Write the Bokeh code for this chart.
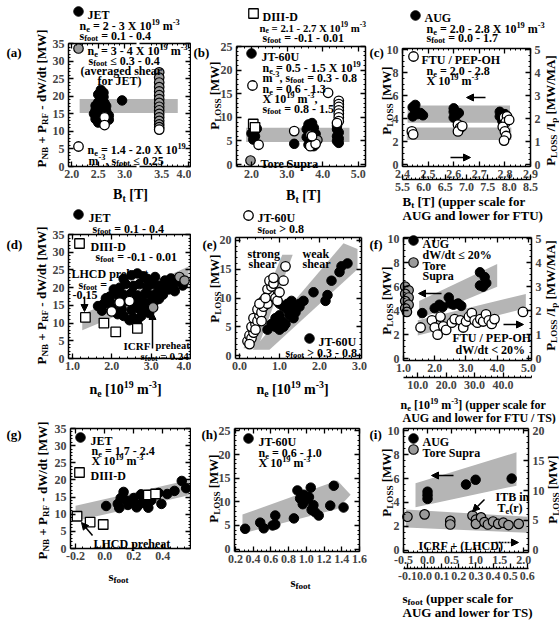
import numpy as np
from bokeh.plotting import figure
from bokeh.models import (Range1d, LinearAxis, FixedTicker, NumeralTickFormatter,
                          CustomJSTickFormatter, Label, Arrow, NormalHead)
from bokeh.layouts import row, column
from bokeh.embed import file_html
from bokeh.resources import INLINE

FONT = "Liberation Serif"

# ---------------- data ----------------
# (a) JET B_t scan (axis has a break between 3.0 and 3.5 T)
a_jet_B = [2.55, 2.60, 2.50, 2.60, 2.55, 2.50, 2.62, 2.45, 2.55, 2.65, 2.45, 2.55, 2.65, 2.42, 2.50, 2.60, 2.70, 2.45, 2.55, 2.70, 2.50, 2.95]
a_jet_P = [21.8, 21.0, 20.5, 19.8, 19.0, 18.3, 18.0, 17.3, 17.0, 17.2, 16.0, 16.0, 15.8, 15.0, 14.5, 14.8, 14.5, 13.5, 13.2, 13.3, 12.5, 18.8]
a_gray_B = [3.45] * 15
a_gray_P = [26.8, 25.3, 23.9, 22.6, 21.4, 20.3, 19.2, 18.1, 17.0, 16.0, 15.0, 14.0, 13.0, 12.0, 11.2]
a_open_B = [2.62, 2.62, 3.45]
a_open_P = [14.0, 11.8, 10.5]
a_band_B = [2.15, 3.80, 3.80, 2.15]
a_band_P = [15.2, 15.2, 19.2, 19.2]

# (b) JT-60U / DIII-D / Tore Supra vs B_t
b_jt_B = [2.05, 2.10, 2.00, 2.10, 2.05, 2.15, 3.20, 3.55, 3.60, 3.70, 3.75, 3.65, 3.80, 3.55, 3.70, 3.80, 3.60, 3.75, 4.40, 4.45, 4.40, 4.45, 4.40, 4.45, 4.40]
b_jt_P = [8.0, 7.2, 6.6, 6.0, 5.3, 7.6, 4.4, 7.5, 8.5, 8.8, 7.8, 6.8, 6.5, 5.8, 5.5, 4.8, 4.2, 3.9, 7.5, 6.8, 6.0, 5.5, 5.0, 4.6, 8.2]
b_open_B = [2.20, 3.20, 4.15, 4.45, 4.45, 4.45, 4.45, 4.45, 4.45, 4.45, 4.40, 3.65, 3.80, 3.70]
b_open_P = [4.2, 7.1, 15.2, 13.5, 12.8, 12.2, 11.5, 10.8, 10.0, 9.2, 8.8, 3.9, 4.4, 6.0]
b_d3d_B = [2.05, 2.10]
b_d3d_P = [8.6, 7.9]
b_ts_B = [3.75, 3.85, 3.65]
b_ts_P = [5.8, 5.2, 6.3]
b_band_B = [1.85, 4.75, 4.75, 1.85]
b_band_P = [4.8, 4.8, 7.8, 7.8]

# (c) AUG (upper B scale, P_LOSS) and FTU (lower B scale, P_LOSS/I_p)
c_aug_B = [2.44, 2.45, 2.46, 2.44, 2.47, 2.48, 2.45, 2.60, 2.60, 2.61, 2.60, 2.62, 2.78, 2.79, 2.80, 2.79, 2.80, 2.78]
c_aug_P = [5.0, 4.7, 4.4, 4.2, 4.5, 4.3, 5.2, 4.9, 4.6, 4.3, 4.1, 4.5, 4.6, 4.3, 4.0, 3.8, 4.4, 4.2]
c_ftu_B = [5.72, 5.75, 6.80, 6.85, 6.80, 6.90, 7.88, 7.95, 7.92, 7.85, 7.90, 7.93, 7.88, 8.00]
c_ftu_PI = [1.45, 1.32, 1.75, 1.60, 1.45, 1.68, 2.05, 2.10, 1.85, 1.65, 1.45, 1.25, 1.05, 1.95]
c_aug_band_B = [2.42, 2.82, 2.82, 2.42]
c_aug_band_P = [3.65, 3.65, 5.15, 5.15]
c_ftu_band_B = [5.6, 8.05, 8.05, 5.6]
c_ftu_band_PI = [1.08, 1.08, 1.62, 1.62]

# (d) vs density
d_jet_n = [2.50, 2.65, 2.80, 3.35, 3.50, 3.65, 2.20, 2.35, 2.55, 2.70, 2.90, 3.05, 3.20, 3.40, 3.55, 3.80,
           1.95, 2.10, 2.30, 2.50, 2.65, 2.85, 3.00, 3.15, 3.30, 1.80, 1.95, 2.20, 2.40, 2.60, 2.80, 2.95, 3.10,
           1.75, 2.00, 2.25, 2.50, 2.70, 2.90, 2.30, 2.55, 2.75, 2.45,
           1.65, 1.85, 2.05, 2.30, 2.90, 3.10, 3.30, 3.45, 3.60, 2.15, 2.65, 2.95, 3.20, 3.00]
d_jet_P = [23.5, 24.0, 23.2, 22.0, 22.6, 22.0, 20.0, 21.0, 20.5, 21.0, 20.2, 21.0, 20.5, 20.8, 20.5, 20.6,
           17.5, 18.3, 18.0, 18.5, 17.8, 18.3, 17.8, 18.5, 18.0, 15.5, 16.0, 16.5, 16.2, 15.8, 16.0, 15.5, 16.3,
           13.5, 14.2, 14.0, 13.6, 14.0, 13.8, 12.0, 11.5, 12.0, 10.8,
           14.8, 17.0, 19.5, 22.5, 22.5, 23.0, 19.0, 19.5, 19.0, 12.5, 10.8, 12.8, 16.8, 15.5]
d_gray_n = [3.05, 3.72, 3.85]
d_gray_P = [14.4, 23.0, 22.0]
d_open_n = [2.00, 2.20, 2.45]
d_open_P = [13.3, 15.8, 16.2]
d_d3d_n = [1.33, 1.80, 2.10, 2.65]
d_d3d_P = [11.6, 10.0, 7.5, 8.5]
d_band_n = [1.25, 3.95, 3.95, 1.25]
d_band_P = [8.0, 20.5, 26.0, 12.5]

# (e) JT-60U strong / weak shear vs density
e_open_n = [0.20, 0.25, 0.30, 0.35, 0.30, 0.40, 0.35, 0.45, 0.50, 0.45, 0.55, 0.60, 0.60, 0.70, 0.75, 0.70,
            0.80, 0.75, 0.85, 0.90, 0.95, 1.00, 1.10, 1.15, 0.25, 0.40, 0.50, 0.65, 0.85, 0.55]
e_open_P = [2.5, 3.5, 3.0, 4.0, 5.0, 5.5, 6.5, 6.0, 7.0, 8.0, 7.5, 8.5, 9.5, 9.0, 10.5, 11.5,
            12.0, 13.0, 12.5, 10.0, 9.5, 11.0, 13.0, 15.5, 2.0, 4.5, 9.0, 10.0, 13.5, 6.0]
e_jt_n = [0.70, 0.80, 0.90, 1.00, 1.10, 0.90, 1.00, 1.05, 1.15, 1.20, 1.25, 1.30, 1.35, 1.40, 1.20, 1.10,
          1.50, 1.60, 1.50, 1.85, 2.20, 2.15, 2.30, 2.50, 2.55, 2.70, 1.00, 1.30]
e_jt_P = [4.5, 5.5, 5.0, 4.5, 5.0, 6.5, 7.0, 6.0, 5.5, 8.0, 7.0, 8.5, 6.5, 7.5, 9.0, 8.5,
          9.0, 9.5, 8.5, 11.0, 10.5, 9.5, 13.0, 14.5, 15.5, 16.0, 9.0, 9.5]
e_strong_band_n = [0.10, 0.45, 1.33, 1.07]
e_strong_band_P = [1.3, 1.3, 17.5, 17.5]
e_weak_band_n = [0.33, 0.75, 2.95, 2.95, 2.60]
e_weak_band_P = [1.0, 1.0, 15.0, 18.5, 19.5]

# (f) AUG (upper n scale, P_LOSS), Tore Supra (lower n scale, P_LOSS), FTU (lower n scale, P_LOSS/I_p)
f_aug_n = [1.60, 2.00, 2.15, 2.25, 2.45, 2.50, 2.60, 2.75, 2.85, 3.45, 3.60, 3.65, 3.45, 3.55]
f_aug_P = [3.8, 4.2, 4.5, 4.3, 5.1, 4.6, 4.5, 4.6, 4.4, 7.2, 6.8, 6.3, 6.1, 6.0]
f_ts_n = [5.6, 6.8, 5.6, 6.8, 5.6, 6.8, 5.6, 6.2]
f_ts_P = [6.0, 5.7, 5.4, 5.1, 4.8, 4.5, 4.2, 3.9]
f_ftu_n = [11, 15, 16, 17, 18, 19, 20, 22, 23, 25, 26, 27, 28, 29, 30, 31, 32, 33, 34, 35, 36, 37, 47]
f_ftu_PI = [1.3, 1.6, 1.3, 1.0, 1.75, 1.35, 1.2, 1.5, 1.65, 1.6, 1.3, 1.55, 1.75, 1.9, 1.6, 1.5, 1.65, 1.55, 1.85, 1.6, 1.45, 1.65, 1.95]
f_aug_band_n = [1.50, 4.00, 4.00, 1.50]
f_aug_band_P = [3.3, 6.0, 7.9, 4.8]
f_ftu_band_n = [10, 48, 48, 10]
f_ftu_band_PI = [0.97, 2.1, 2.7, 1.6]

# (g) JET / DIII-D vs s_foot
g_jet_s = [0.01, 0.09, 0.11, 0.13, 0.16, 0.20, 0.23, 0.25, 0.27, 0.30, 0.32, 0.37, 0.39, 0.43, 0.48, 0.53, 0.56, 0.10, 0.18, 0.22, 0.15, 0.26]
g_jet_P = [12.4, 13.0, 14.7, 16.5, 12.7, 14.7, 12.6, 15.8, 14.7, 11.9, 14.0, 16.2, 13.0, 15.9, 16.8, 19.7, 17.6, 11.8, 13.5, 12.0, 14.0, 13.3]
g_d3d_s = [-0.19, -0.10, -0.01, 0.30, 0.35]
g_d3d_P = [9.4, 7.7, 7.0, 15.6, 15.9]
g_band_s = [-0.20, 0.58, 0.58, -0.20]
g_band_P = [8.0, 15.5, 20.0, 12.5]

# (h) JT-60U vs s_foot
h_jt_s = [0.31, 0.48, 0.52, 0.62, 0.65, 0.65, 0.86, 0.90, 0.93, 0.96, 1.05, 1.03, 1.08, 1.06, 1.10, 1.14, 1.31, 1.27, 1.42, 0.97, 1.00]
h_jt_P = [4.3, 5.6, 4.4, 5.0, 5.2, 7.1, 6.5, 12.4, 10.7, 9.5, 13.0, 11.0, 9.3, 8.3, 7.8, 7.1, 13.4, 9.2, 8.8, 11.5, 10.5]
h_band_s = [0.28, 1.35, 1.50, 1.35, 0.28]
h_band_P = [3.3, 8.5, 11.5, 14.5, 7.3]

# (i) AUG (upper s scale, left P) and Tore Supra (lower s scale, right P)
i_aug_s = [0.0, 0.0, 0.0, 0.8, 1.0, 1.75]
i_aug_P = [4.3, 4.6, 4.9, 5.5, 5.9, 6.0]
i_ts_s = [-0.10, 0.00, 0.15, 0.15, 0.28, 0.30, 0.30, 0.33, 0.35, 0.37, 0.40, 0.43, 0.46, 0.49, 0.55]
i_ts_P = [5.6, 6.0, 4.9, 4.3, 5.8, 5.1, 4.4, 5.5, 4.7, 4.3, 4.8, 4.4, 4.6, 4.2, 4.4]
i_aug_band_s = [-0.25, 1.85, 1.85, -0.25]
i_aug_band_P = [3.6, 5.4, 8.2, 5.6]
i_ts_band_s = [-0.11, 0.60, 0.60, -0.11]
i_ts_band_P = [3.8, 2.9, 5.6, 6.8]

# axis break of panel (a)
A_BREAK, A_SHIFT = 3.2, 0.2
def a_u(B):
    B = np.asarray(B, dtype=float)
    return np.where(B > A_BREAK, B + A_SHIFT, B)

# ---------------- geometry (page pixels) ----------------
GEO = {
    'a': dict(cell=(0, 0, 191, 205), frame=(68, 43, 190, 166), xr=(1.94, 4.24), yr=(0, 35)),
    'b': dict(cell=(191, 0, 177, 205), frame=(236, 46, 365, 166), xr=(1.58, 5.2), yr=(-0.4, 25)),
    'c': dict(cell=(368, 0, 191, 225), frame=(402, 48, 530, 166), xr=(2.4, 2.9), yr=(-0.15, 10.1)),
    'd': dict(cell=(0, 205, 191, 205), frame=(68, 234, 190, 358), xr=(0.9, 4.0), yr=(0, 35)),
    'e': dict(cell=(191, 205, 177, 205), frame=(235, 237, 361, 358), xr=(-0.1, 3.05), yr=(-0.5, 20.5)),
    'f': dict(cell=(368, 225, 191, 199), frame=(403, 237, 531, 360), xr=(1.0, 5.1), yr=(-0.15, 10.1)),
    'g': dict(cell=(0, 410, 191, 210), frame=(70, 428, 190, 548), xr=(-0.235, 0.59), yr=(0, 35)),
    'h': dict(cell=(191, 410, 177, 210), frame=(234, 428, 359, 551), xr=(0.19, 1.6), yr=(-0.5, 25.5)),
    'i': dict(cell=(368, 424, 191, 196), frame=(403, 428, 528, 552), xr=(-0.5, 2.1), yr=(-0.2, 10.2)),
}

class Panel:
    """A figure whose canvas is one cell of the page; the plot box is drawn with
    axes at fixed locations so that texts outside the box are not clipped."""
    def __init__(self, key):
        g = GEO[key]
        self.cx, self.cy, self.cw, self.ch = g['cell']
        self.fx0, self.fy0, self.fx1, self.fy1 = g['frame']
        self.xr, self.yr = g['xr'], g['yr']
        p = figure(width=self.cw, height=self.ch,
                   x_range=Range1d(*self.full_x(*self.xr)), y_range=Range1d(*self.full_y(*self.yr)),
                   output_backend="svg", toolbar_location=None, title_location=None,
                   x_axis_location=None, y_axis_location=None,
                   min_border_left=0, min_border_right=0, min_border_top=0, min_border_bottom=0)
        p.grid.visible = False
        p.outline_line_color = None
        p.background_fill_color = "white"
        p.border_fill_color = "white"
        self.p = p

    def full_x(self, a, b):
        k = (b - a) / (self.fx1 - self.fx0)
        return (a - (self.fx0 - self.cx) * k, b + (self.cx + self.cw - self.fx1) * k)

    def full_y(self, a, b):
        k = (b - a) / (self.fy1 - self.fy0)
        return (a - (self.cy + self.ch - self.fy1) * k, b + (self.fy0 - self.cy) * k)

    def extra(self, xlim=None, ylim=None):
        if xlim is not None:
            self.p.extra_x_ranges = {"lo": Range1d(*self.full_x(*xlim))}
        if ylim is not None:
            self.p.extra_y_ranges = {"r": Range1d(*self.full_y(*ylim))}

    def d(self, px, py):
        x = self.xr[0] + (px - self.fx0) / (self.fx1 - self.fx0) * (self.xr[1] - self.xr[0])
        y = self.yr[1] - (py - self.fy0) / (self.fy1 - self.fy0) * (self.yr[1] - self.yr[0])
        return x, y

BLANK = "return '';"

def style_axis(ax, ticks, minor, fmt="0", standoff=3):
    ax.ticker = FixedTicker(ticks=[float(t) for t in np.round(ticks, 4)],
                            minor_ticks=[float(t) for t in np.round(minor, 4)])
    ax.major_tick_in = 5
    ax.major_tick_out = 0
    ax.minor_tick_in = 2
    ax.minor_tick_out = 0
    ax.axis_line_width = 1.5
    ax.major_tick_line_width = 1.3
    ax.minor_tick_line_width = 1.0
    ax.major_label_text_font = FONT
    ax.major_label_text_font_style = "bold"
    ax.major_label_text_font_size = "12px"
    ax.major_label_standoff = standoff
    if fmt == BLANK:
        ax.formatter = CustomJSTickFormatter(code=BLANK)
    elif fmt is not None:
        ax.formatter = NumeralTickFormatter(format=fmt)

def mk_axis(P, side, ticks, minor, fmt, bounds, loc, rname=None):
    kw = {}
    if rname is not None:
        kw['x_range_name' if side in ('below', 'above') else 'y_range_name'] = rname
    ax = LinearAxis(fixed_location=loc, bounds=tuple(float(b) for b in bounds), **kw)
    style_axis(ax, ticks, minor, fmt, 3 if side in ('below', 'above') else 4)
    P.p.add_layout(ax, side)
    return ax

def box(P, xt, xm, xfmt, yt, ym, yfmt, mirror_right=True):
    x0, x1 = P.xr
    y0, y1 = P.yr
    mk_axis(P, 'below', xt, xm, xfmt, (x0, x1), y0)
    mk_axis(P, 'above', xt, xm, BLANK, (x0, x1), y1)
    mk_axis(P, 'left', yt, ym, yfmt, (y0, y1), x0)
    if mirror_right:
        mk_axis(P, 'right', yt, ym, BLANK, (y0, y1), x1)

W = {' ': .25, '%': 1.0, '(': .333, ')': .333, '+': .57, ',': .25, '-': .333, '.': .25, '/': .278, ':': .333,
     '<': .57, '=': .57, '>': .57, '≤': .57, 'A': .722, 'B': .667, 'C': .722, 'D': .722, 'E': .667, 'F': .611,
     'G': .778, 'H': .778, 'I': .389, 'J': .5, 'L': .667, 'M': .944, 'N': .722, 'O': .778, 'P': .611, 'R': .722,
     'S': .556, 'T': .667, 'U': .722, 'W': 1.0, 'X': .722, '[': .333, ']': .333, 'a': .5, 'b': .556, 'c': .444,
     'd': .556, 'e': .444, 'f': .333, 'g': .5, 'h': .556, 'i': .278, 'k': .556, 'l': .278, 'm': .833, 'n': .556,
     'o': .5, 'p': .556, 'r': .444, 's': .389, 't': .333, 'u': .556, 'v': .5, 'w': .722, 'x': .5, 'y': .5}

def tw(s, size):
    return sum(W.get(ch, .5) for ch in s) * size

def parse(s):
    out, buf, i = [], '', 0
    while i < len(s):
        if s[i] in '_^' and i + 1 < len(s) and s[i + 1] == '{':
            if buf:
                out.append((buf, 0))
                buf = ''
            j = s.index('}', i)
            out.append((s[i + 2:j], -1 if s[i] == '_' else 1))
            i = j + 1
        else:
            buf += s[i]
            i += 1
    if buf:
        out.append((buf, 0))
    return out

def put(P, px, py, s, size=12, align='left', angle=0.0, color='black'):
    segs = parse(s)
    sizes = [size * 0.7 if k else size for t, k in segs]
    widths = [tw(t, sz) for (t, k), sz in zip(segs, sizes)]
    total = sum(widths)
    off = {'left': 0, 'center': -total / 2, 'right': -total}[align]
    x, y = P.d(px, py)
    base = -0.32 * size
    for (t, k), sz, w in zip(segs, sizes, widths):
        lead = len(t) - len(t.lstrip(' '))
        core = t.strip(' ')
        along = off + tw(' ' * lead, sz)
        sh = base + {0: 0, -1: -0.22 * size, 1: 0.4 * size}[k]
        if core:
            if angle == 0:
                xo, yo = along, sh
            else:
                xo, yo = -sh, along
            P.p.add_layout(Label(x=x, y=y, x_offset=xo, y_offset=yo, text=core, angle=angle,
                                 text_font=FONT, text_font_style="bold", text_font_size=f"{sz:.1f}px",
                                 text_color=color, text_align="left", text_baseline="alphabetic"))
        off += w

MS = 9.5
def blk(p, x, y, **kw):
    p.scatter(x, y, size=MS, marker="circle", fill_color="black", line_color="black", line_width=1, **kw)
def opn(p, x, y, **kw):
    p.scatter(x, y, size=MS, marker="circle", fill_color="white", line_color="black", line_width=1.3, **kw)
def gry(p, x, y, **kw):
    p.scatter(x, y, size=MS, marker="circle", fill_color="#9a9a9a", line_color="black", line_width=1.2, **kw)
def sqr(p, x, y, **kw):
    p.scatter(x, y, size=MS, marker="square", fill_color="white", line_color="black", line_width=1.3, **kw)
SYM = {'blk': blk, 'open': opn, 'gray': gry, 'sq': sqr}

def sym(P, px, py, kind):
    x, y = P.d(px, py)
    SYM[kind](P.p, [x], [y])

def arrow(P, p0, p1, dash="solid", size=7):
    x0, y0 = P.d(*p0)
    x1, y1 = P.d(*p1)
    P.p.add_layout(Arrow(x_start=x0, y_start=y0, x_end=x1, y_end=y1, line_width=1.5, line_dash=dash,
                         end=NormalHead(size=size, fill_color="black", line_color="black", line_width=1)))

BAND = dict(fill_color="#b5b5b5", line_color=None)

def ar(a, b, s):
    return np.arange(a, b + s / 2, s)

ROT = np.pi / 2

# ---------------- (a) ----------------
A = Panel('a'); p = A.p
p.patch(a_u(a_band_B), a_band_P, **BAND)
blk(p, a_u(a_jet_B), a_jet_P)
gry(p, a_u(a_gray_B), a_gray_P)
opn(p, a_u(a_open_B), a_open_P)
ax0, ax1 = A.xr
gap = (3.22, 3.28)
lo_t, hi_t = a_u([2.0, 2.5, 3.0]), a_u([3.5, 4.0])
lo_m, hi_m = a_u(ar(2.0, 3.2, 0.1)), a_u(ar(3.1, 4.0, 0.1))
for side, fmt in (('below', None), ('above', BLANK)):
    for bnd, tk, mn in (((ax0, gap[0]), lo_t, lo_m), ((gap[1], ax1), hi_t, hi_m)):
        ax = mk_axis(A, side, tk, [m for m in mn if bnd[0] <= m <= bnd[1]], fmt, bnd,
                     A.yr[0] if side == 'below' else A.yr[1])
        if fmt is None:
            ax.formatter = CustomJSTickFormatter(args=dict(brk=A_BREAK, sh=A_SHIFT),
                                                 code="return (tick > brk ? tick - sh : tick).toFixed(1);")
mk_axis(A, 'left', ar(0, 35, 5), ar(0, 35, 1), "0", A.yr, ax0)
mk_axis(A, 'right', ar(0, 35, 5), ar(0, 35, 1), BLANK, A.yr, ax1)
sym(A, 78, 11, 'blk'); put(A, 87, 11, "JET")
put(A, 79, 22, "n_{e} = 2 - 3 X 10^{19} m^{-3}")
put(A, 79, 32, "s_{foot} = 0.1 - 0.4")
sym(A, 78, 48, 'gray'); put(A, 87, 47, "n_{e} = 3 - 4 X 10^{19} m^{-3}")
put(A, 88, 57, "s_{foot} ≤ 0.3 - 0.4")
put(A, 80, 67, "(averaged shear")
put(A, 97, 77, "for JET)")
sym(A, 78, 146, 'open'); put(A, 87, 146, "n_{e} = 1.4 - 2.0 X 10^{19}")
put(A, 88, 157, "m^{-3}, s_{foot} ≤ 0.25")
put(A, 6, 48, "(a)", 13)
put(A, 37, 98, "P_{NB} + P_{RF} - dW/dt [MW]", 13, 'center', ROT)
put(A, 130, 190, "B_{t} [T]", 14, 'center')

# ---------------- (b) ----------------
B = Panel('b'); p = B.p
p.patch(b_band_B, b_band_P, **BAND)
blk(p, b_jt_B, b_jt_P)
gry(p, b_ts_B, b_ts_P)
opn(p, b_open_B, b_open_P)
sqr(p, b_d3d_B, b_d3d_P)
box(B, ar(2, 5, 1), ar(1.6, 5.2, 0.2), "0.0", ar(0, 25, 5), ar(0, 25, 1), "0")
sym(B, 253, 13, 'sq'); put(B, 262, 13, "DIII-D")
put(B, 259, 24, "n_{e} = 2.1 - 2.7 X 10^{19} m^{-3}", 10.8)
put(B, 262, 34, "s_{foot} = -0.1 - 0.01")
sym(B, 251, 53, 'blk'); put(B, 261, 53, "JT-60U")
put(B, 262, 64, "n_{e} = 0.5 - 1.5 X 10^{19}")
put(B, 262, 74, "m^{-3}, s_{foot} = 0.3 - 0.8")
sym(B, 252, 85, 'open'); put(B, 262, 85, "n_{e} = 0.6 - 1.3")
put(B, 262, 95, "X 10^{19} m^{-3},")
put(B, 262, 105, "s_{foot} = 0.8 - 1.5")
sym(B, 250, 160, 'gray'); put(B, 260, 160, "Tore Supra")
put(B, 193, 48, "(b)", 13)
put(B, 210, 95, "P_{LOSS} [MW]", 13, 'center', ROT)
put(B, 303, 191, "B_{t} [T]", 14, 'center')

# ---------------- (c) ----------------
C = Panel('c'); p = C.p
C.extra(xlim=(5.5, 8.5), ylim=(-0.075, 5.05))
p.patch(c_aug_band_B, c_aug_band_P, **BAND)
p.patch(c_ftu_band_B, c_ftu_band_PI, x_range_name="lo", y_range_name="r", **BAND)
blk(p, c_aug_B, c_aug_P)
opn(p, c_ftu_B, c_ftu_PI, x_range_name="lo", y_range_name="r")
box(C, ar(2.4, 2.9, 0.1), ar(2.4, 2.9, 0.02), "0.0", ar(0, 10, 2), ar(0, 10, 0.5), "0", mirror_right=False)
mk_axis(C, 'below', ar(5.5, 8.5, 0.5), ar(5.5, 8.5, 0.1), "0.0", (5.5, 8.5), C.d(0, 179)[1], "lo")
mk_axis(C, 'right', ar(0, 5, 1), ar(0, 5, 0.25), "0", (-0.075, 5.05), C.xr[1], "r")
sym(C, 415, 15, 'blk'); put(C, 424, 14, "AUG")
put(C, 426, 25, "n_{e} = 2.0 - 2.8 X 10^{19} m^{-3}")
put(C, 426, 34, "s_{foot} = 0.0 - 1.7")
sym(C, 413, 56, 'open'); put(C, 421, 56, "FTU / PEP-OH")
put(C, 426, 67, "n_{e} = 2.0 - 2.8")
put(C, 426, 77, "X 10^{19} m^{-3}")
put(C, 369, 48, "(c)", 13)
put(C, 382, 100, "P_{LOSS} [MW]", 13, 'center', ROT)
put(C, 546, 110, "P_{LOSS} /I_{p} [MW/MA]", 13, 'center', ROT)
put(C, 402, 197, "B_{t} [T] (upper scale for", 13)
put(C, 402, 211, "AUG and lower for FTU)", 13)
arrow(C, (485, 97), (466, 97))
arrow(C, (450, 157), (470, 157))

# ---------------- (d) ----------------
D = Panel('d'); p = D.p
p.patch(d_band_n, d_band_P, **BAND)
blk(p, d_jet_n, d_jet_P)
gry(p, d_gray_n, d_gray_P)
opn(p, d_open_n, d_open_P)
sqr(p, d_d3d_n, d_d3d_P)
box(D, ar(1, 4, 1), ar(1.0, 4.0, 0.2), "0.0", ar(0, 35, 5), ar(0, 35, 1), "0")
sym(D, 78, 214, 'blk'); put(D, 88, 214, "JET")
put(D, 92, 225, "s_{foot} = 0.1 - 0.4")
sym(D, 79, 243, 'sq'); put(D, 90, 243, "DIII-D")
put(D, 95, 253, "s_{foot} = -0.1 - 0.01")
put(D, 71, 270, "LHCD preheat")
put(D, 78, 281, "s_{foot} =")
put(D, 72, 291, "-0.15")
put(D, 123, 342, "ICRF", 11)
put(D, 155, 342, "preheat", 10.5)
put(D, 140, 352, "s_{foot} = 0.24", 11)
arrow(D, (84, 296), (84, 311))
arrow(D, (152, 348), (152, 312))
put(D, 6, 240, "(d)", 13)
put(D, 37, 295, "P_{NB} + P_{RF} - dW/dt [MW]", 13, 'center', ROT)
put(D, 125, 385, "n_{e} [10^{19} m^{-3}]", 14, 'center')

# ---------------- (e) ----------------
E = Panel('e'); p = E.p
p.patch(e_weak_band_n, e_weak_band_P, **BAND)
p.patch(e_strong_band_n, e_strong_band_P, **BAND)
blk(p, e_jt_n, e_jt_P)
opn(p, e_open_n, e_open_P)
box(E, ar(0, 3, 1), ar(0, 3.0, 0.2), "0.0", ar(0, 20, 5), ar(0, 20, 1), "0")
sym(E, 248, 215, 'open'); put(E, 257, 214, "JT-60U")
put(E, 257, 225, "s_{foot} > 0.8")
put(E, 247, 250, "strong"); put(E, 248, 260, "shear")
put(E, 302, 250, "weak"); put(E, 302, 260, "shear")
sym(E, 309, 338, 'blk'); put(E, 318, 338, "JT-60U")
put(E, 285, 349, "s_{foot} > 0.3 - 0.8")
put(E, 202, 240, "(e)", 13)
put(E, 210, 288, "P_{LOSS} [MW]", 13, 'center', ROT)
put(E, 292, 385, "n_{e} [10^{19} m^{-3}]", 14, 'center')

# ---------------- (f) ----------------
F = Panel('f'); p = F.p
F.extra(xlim=(5.0, 50.0), ylim=(-0.075, 5.05))
p.patch(f_aug_band_n, f_aug_band_P, **BAND)
p.patch(f_ftu_band_n, f_ftu_band_PI, x_range_name="lo", y_range_name="r", **BAND)
blk(p, f_aug_n, f_aug_P)
gry(p, f_ts_n, f_ts_P, x_range_name="lo")
opn(p, f_ftu_n, f_ftu_PI, x_range_name="lo", y_range_name="r")
box(F, ar(1, 5, 1), ar(1.0, 5.0, 0.2), "0.0", ar(0, 10, 2), ar(0, 10, 0.5), "0", mirror_right=False)
mk_axis(F, 'below', ar(10, 40, 10), ar(6, 50, 2), "0.0", (5.0, 50.0), F.d(0, 377)[1], "lo")
mk_axis(F, 'right', ar(0, 5, 1), ar(0, 5, 0.25), "0", (-0.075, 5.05), F.xr[1], "r")
sym(F, 413, 240, 'blk'); put(F, 422, 240, "AUG")
put(F, 422, 251, "dW/dt ≤ 20%")
sym(F, 413, 262, 'gray'); put(F, 422, 262, "Tore")
put(F, 422, 272, "Supra")
put(F, 452, 334, "FTU / PEP-OH")
put(F, 455, 346, "dW/dt < 20%")
arrow(F, (441, 293), (418, 293))
arrow(F, (503, 324), (523, 324))
put(F, 369, 240, "(f)", 13)
put(F, 382, 300, "P_{LOSS} [MW]", 13, 'center', ROT)
put(F, 546, 295, "P_{LOSS} /I_{p} [MW/MA]", 13, 'center', ROT)
put(F, 400, 401, "n_{e} [10^{19} m^{-3}] (upper scale for", 12)
put(F, 402, 414, "AUG and lower for FTU / TS)", 12)

# ---------------- (g) ----------------
G = Panel('g'); p = G.p
p.patch(g_band_s, g_band_P, **BAND)
blk(p, g_jet_s, g_jet_P)
sqr(p, g_d3d_s, g_d3d_P)
box(G, ar(-0.2, 0.6, 0.2), ar(-0.2, 0.6, 0.05), "0.0", ar(0, 35, 5), ar(0, 35, 1), "0")
sym(G, 80, 437, 'blk'); put(G, 90, 437, "JET")
put(G, 91, 447, "n_{e} = 1.7 - 2.4")
put(G, 91, 457, "X 10^{19} m^{-3}")
sym(G, 79, 472, 'sq'); put(G, 90, 472, "DIII-D")
put(G, 93, 540, "LHCD preheat")
arrow(G, (92, 535), (81, 522))
put(G, 6, 430, "(g)", 13)
put(G, 38, 490, "P_{NB} + P_{RF} - dW/dt [MW]", 13, 'center', ROT)
put(G, 118, 572, "s_{foot}", 13, 'center')

# ---------------- (h) ----------------
H = Panel('h'); p = H.p
p.patch(h_band_s, h_band_P, **BAND)
blk(p, h_jt_s, h_jt_P)
box(H, ar(0.2, 1.6, 0.2), ar(0.2, 1.6, 0.05), "0.0", ar(0, 25, 5), ar(0, 25, 1), "0")
sym(H, 248, 438, 'blk'); put(H, 258, 438, "JT-60U")
put(H, 258, 449, "n_{e} = 0.6 - 1.0")
put(H, 258, 459, "X 10^{19} m^{-3}")
put(H, 201, 430, "(h)", 13)
put(H, 209, 488, "P_{LOSS} [MW]", 13, 'center', ROT)
put(H, 300, 578, "s_{foot}", 13, 'center')

# ---------------- (i) ----------------
I = Panel('i'); p = I.p
I.extra(xlim=(-0.123, 0.607), ylim=(-0.4, 20.4))
p.patch(i_aug_band_s, i_aug_band_P, **BAND)
p.patch(i_ts_band_s, i_ts_band_P, x_range_name="lo", y_range_name="r", **BAND)
blk(p, i_aug_s, i_aug_P)
gry(p, i_ts_s, i_ts_P, x_range_name="lo", y_range_name="r")
box(I, ar(-0.5, 2.0, 0.5), ar(-0.5, 2.0, 0.1), "0.0", ar(0, 10, 2), ar(0, 10, 0.5), "0", mirror_right=False)
mk_axis(I, 'below', ar(-0.1, 0.6, 0.1), ar(-0.12, 0.6, 0.02), "0.0", (-0.123, 0.607), I.d(0, 568)[1], "lo")
mk_axis(I, 'right', ar(0, 20, 5), ar(0, 20, 1), "0", (-0.4, 20.4), I.xr[1], "r")
sym(I, 413, 438, 'blk'); put(I, 422, 438, "AUG")
sym(I, 413, 449, 'gray'); put(I, 422, 449, "Tore Supra")
put(I, 495, 493, "ITB in")
put(I, 497, 504, "T_{e}(r)")
put(I, 418, 542, "ICRF + (LHCD)")
arrow(I, (453, 475), (431, 475))
arrow(I, (495, 542), (518, 542), dash="2 1")
arrow(I, (484, 499), (472, 511))
put(I, 369, 430, "(i)", 13)
put(I, 382, 482, "P_{LOSS} [MW]", 13, 'center', ROT)
put(I, 548, 489, "P_{LOSS} [MW]", 13, 'center', ROT)
put(I, 402, 594, "s_{foot} (upper scale for", 13)
put(I, 402, 608, "AUG and lower for TS)", 13)

layout = row(column(A.p, D.p, G.p), column(B.p, E.p, H.p), column(C.p, F.p, I.p))
open("out.html", "w").write(file_html(layout, INLINE))
